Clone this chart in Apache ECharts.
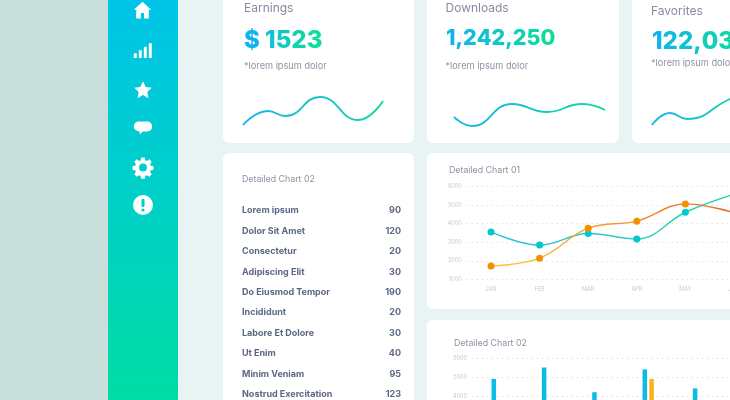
<!DOCTYPE html>
<html>
<head>
<meta charset="utf-8">
<style>
  html, body { margin: 0; padding: 0; background: #e8f4f4; overflow: hidden; }
  #main { width: 730px; height: 400px; filter: blur(0.4px); }
</style>
<script src="https://cdn.jsdelivr.net/npm/echarts@6/dist/echarts.min.js"></script>
</head>
<body>
<div id="main"></div>
<script>
var months = ["JAN", "FEB", "MAR", "APR", "MAY", "JUN"];
var tealValues = [3560, 2850, 3470, 3180, 4620, 5600];
var orangeValues = [1720, 2140, 3760, 4140, 5070, 4600];
var blueBars = [4900, 5500, 4200, 5400, 4400, 4800];
var yellowBars = [3000, 3400, 2600, 4900, 3200, 3000];
var earningsX = [0, 25, 42, 77, 115, 140];
var earningsY = [10, 24, 19, 38, 15, 34];
var downloadsX = [0, 18, 58, 93, 128, 151];
var downloadsY = [18, 9, 31, 23, 31, 25];
var favoritesX = [0, 18, 35, 78, 98];
var favoritesY = [10, 22, 16, 36, 43];
var listNames = ["Lorem ipsum", "Dolor Sit Amet", "Consectetur", "Adipiscing Elit", "Do Eiusmod Tempor",
  "Incididunt", "Labore Et Dolore", "Ut Enim", "Minim Veniam", "Nostrud Exercitation"];
var listValues = [90, 120, 20, 30, 190, 20, 30, 40, 95, 123];

var FONT = "Inter, 'Noto Sans', sans-serif";
var GRAD = echarts.graphic.LinearGradient;

function hGrad(from, to) {
  return new GRAD(0, 0, 1, 0, [{ offset: 0, color: from }, { offset: 1, color: to }]);
}

function card(x, y, w, h) {
  return { type: "rect", z: -5, shape: { x: x, y: y, width: w, height: h, r: 6 }, style: { fill: "#fff" } };
}

function label(text, x, y, size, color, weight, align) {
  return {
    type: "text", x: x, y: y, z: 5,
    style: {
      text: text, fill: color, font: (weight || 400) + " " + size + "px " + FONT,
      textAlign: align || "left", textVerticalAlign: "middle"
    }
  };
}

// canvas text ignores gradient fills here, so each character gets its own colour
function gradLabel(text, x, y, size) {
  var rich = {};
  var parts = text.split("").map(function (ch, i) {
    rich["c" + i] = {
      fill: echarts.color.lerp(i / (text.length - 1), ["#0fb4ee", "#0edc9c"]),
      font: "800 " + size + "px " + FONT
    };
    return "{c" + i + "|" + ch + "}";
  });
  return {
    type: "text", x: x, y: y, z: 5,
    style: { text: parts.join(""), rich: rich, font: "800 " + size + "px " + FONT, textVerticalAlign: "middle" }
  };
}

// icons are drawn on a 24 unit box, then scaled to size
var ICONS = {
  home: "M12 1L1 11h3v11h6v-7h4v7h6V11h3z",
  bars: "M1 15h3.5v7H1zM7 11h3.5v11H7zM13 6h3.5v16H13zM19 1h3.5v21H19z",
  star: "M12 1l3.4 7.2 7.6 1-5.6 5.3 1.5 7.8L12 18.4l-6.9 3.9 1.5-7.8L1 9.2l7.6-1z",
  chat: "M7 3h10c3.5 0 6 2.2 6 5s-2.5 5-6 5h-5l-4 3v-3.1C4 12.6 1 10.8 1 8c0-2.8 2.5-5 6-5z",
  gear: "M10 1h4l.6 3.2 1.9.8 2.7-1.8 2.8 2.8-1.8 2.7.8 1.9 3 .6v4l-3 .6-.8 1.9 1.8 2.7-2.8 2.8-2.7-1.8-1.9.8-.6 3.2h-4l-.6-3.2-1.9-.8-2.7 1.8-2.8-2.8 1.8-2.7-.8-1.9-3-.6v-4l3-.6.8-1.9-1.8-2.7 2.8-2.8 2.7 1.8 1.9-.8zM12 8a4.5 4.5 0 1 0 0 9 4.5 4.5 0 1 0 0-9z"
};
Object.keys(ICONS).forEach(function (name) {
  echarts.graphic.registerShape("icon_" + name, echarts.graphic.extendPath(ICONS[name], {}));
});

function icon(name, cx, cy, w, h) {
  return {
    type: "icon_" + name, z: 5,
    x: cx - w / 2, y: cy - h / 2, scaleX: w / 24, scaleY: h / 24,
    style: { fill: "#fff" }
  };
}

var graphics = [
  { type: "rect", z: -10, shape: { x: 0, y: 0, width: 108, height: 400 }, style: { fill: "#c9dfdc" } },
  {
    type: "rect", z: -10, shape: { x: 108, y: 0, width: 70, height: 400 },
    style: { fill: new GRAD(0, 0, 0, 1, [{ offset: 0, color: "#00c4e8" }, { offset: 1, color: "#00dca4" }]) }
  },
  card(223, -10, 191, 153), card(427, -10, 192, 153), card(632, -10, 120, 153),
  card(223, 153, 191, 270), card(427, 153, 320, 156), card(427, 320, 320, 100),
  icon("home", 142.5, 10.5, 19, 19),
  icon("bars", 143, 51, 20, 17),
  icon("star", 143, 90, 19, 19),
  icon("chat", 143, 130.5, 20, 24),
  icon("gear", 143, 167, 21, 21),
  { type: "circle", z: 5, shape: { cx: 143, cy: 205, r: 10 }, style: { fill: "#fff" } },
  { type: "rect", z: 6, shape: { x: 141.5, y: 199, width: 3, height: 8, r: 1 }, style: { fill: "#00d0c8" } },
  { type: "circle", z: 6, shape: { cx: 143, cy: 210, r: 1.6 }, style: { fill: "#00d0c8" } },

  label("Earnings", 244, 8, 12, "#868c9c"),
  gradLabel("$ 1523", 244, 41, 24),
  label("*lorem ipsum dolor", 244, 66.5, 9.2, "#8d93a3"),
  label("Downloads", 445.5, 8, 12, "#868c9c"),
  gradLabel("1,242,250", 446, 38.5, 21.5),
  label("*lorem ipsum dolor", 445.5, 66.5, 9.2, "#8d93a3"),
  label("Favorites", 651, 11, 12, "#868c9c"),
  gradLabel("122,030", 652, 41.5, 24),
  label("*lorem ipsum dolor", 651, 63.5, 9.2, "#8d93a3"),
  label("Detailed Chart 02", 242, 179, 8.8, "#8d93a3"),
  label("Detailed Chart 01", 449, 170, 8.8, "#8d93a3"),
  label("Detailed Chart 02", 454, 343, 8.8, "#8d93a3")
];

listNames.forEach(function (name, i) {
  var y = 210.5 + i * 20.45;
  graphics.push(label(name, 242, y, 9, "#5c6784", 700));
  graphics.push(label(String(listValues[i]), 401, y, 9, "#5c6784", 700, "right"));
});

function zipped(xs, ys) {
  return xs.map(function (x, i) { return [x, ys[i]]; });
}
function sparkX(i, xs) {
  return { gridIndex: i, type: "value", min: 0, max: xs[xs.length - 1], show: false, splitLine: { show: false } };
}
function sparkY(i) {
  return { gridIndex: i, type: "value", min: 0, max: 50, show: false, splitLine: { show: false } };
}
function spark(i, xs, ys) {
  return {
    type: "line", xAxisIndex: i, yAxisIndex: i, data: zipped(xs, ys), smooth: 0.5, symbol: "none",
    lineStyle: { width: 1.9, color: hGrad("#1ab4ea", "#14d8a0") }, silent: true
  };
}

var axisText = { color: "#c5ccd2", fontSize: 5.5, fontFamily: FONT };
var dots = { show: true, lineStyle: { type: [1, 4], color: "#cfd6db", width: 1 } };

function bigX(i) {
  return {
    gridIndex: i, type: "category", data: months,
    axisLine: { show: false }, axisTick: { show: false },
    axisLabel: Object.assign({ margin: 7 }, axisText)
  };
}
function bigY(i) {
  return {
    gridIndex: i, type: "value", min: 1000, max: 6000, interval: 1000,
    axisLine: { show: false }, axisTick: { show: false },
    axisLabel: Object.assign({ margin: 5, formatter: function (v) { return String(v); } }, axisText),
    splitLine: dots
  };
}
function curve(data, from, to, dot) {
  return {
    type: "line", xAxisIndex: 3, yAxisIndex: 3, data: data, smooth: 0.4,
    symbol: "circle", symbolSize: 7, itemStyle: { color: dot, borderWidth: 0 },
    lineStyle: { width: 1.4, color: hGrad(from, to) }
  };
}
function bars(data, color) {
  return {
    type: "bar", xAxisIndex: 4, yAxisIndex: 4, data: data, barWidth: 4.5, barGap: "50%",
    itemStyle: { color: color }
  };
}

var chart = echarts.init(document.getElementById("main"), null, { renderer: "canvas" });
chart.setOption({
  animation: false,
  backgroundColor: "#e8f4f4",
  graphic: graphics,
  grid: [
    { left: 243, width: 140, top: 85, height: 50, outerBoundsMode: "none" },
    { left: 454, width: 151, top: 85, height: 50, outerBoundsMode: "none" },
    { left: 652, width: 98, top: 85, height: 50, outerBoundsMode: "none" },
    { left: 466.7, width: 291.6, top: 186.7, height: 92.6, outerBoundsMode: "none" },
    { left: 472, width: 302, top: 358, height: 95, outerBoundsMode: "none" }
  ],
  xAxis: [sparkX(0, earningsX), sparkX(1, downloadsX), sparkX(2, favoritesX), bigX(3), bigX(4)],
  yAxis: [sparkY(0), sparkY(1), sparkY(2), bigY(3), bigY(4)],
  series: [
    spark(0, earningsX, earningsY),
    spark(1, downloadsX, downloadsY),
    spark(2, favoritesX, favoritesY),
    curve(tealValues, "#2cbce8", "#1fdca0", "#00c8cf"),
    curve(orangeValues, "#ffc53a", "#e8672e", "#f29100"),
    bars(blueBars, "#0cbbe6"),
    bars(yellowBars, "#f8b418")
  ]
});
</script>
</body>
</html>
